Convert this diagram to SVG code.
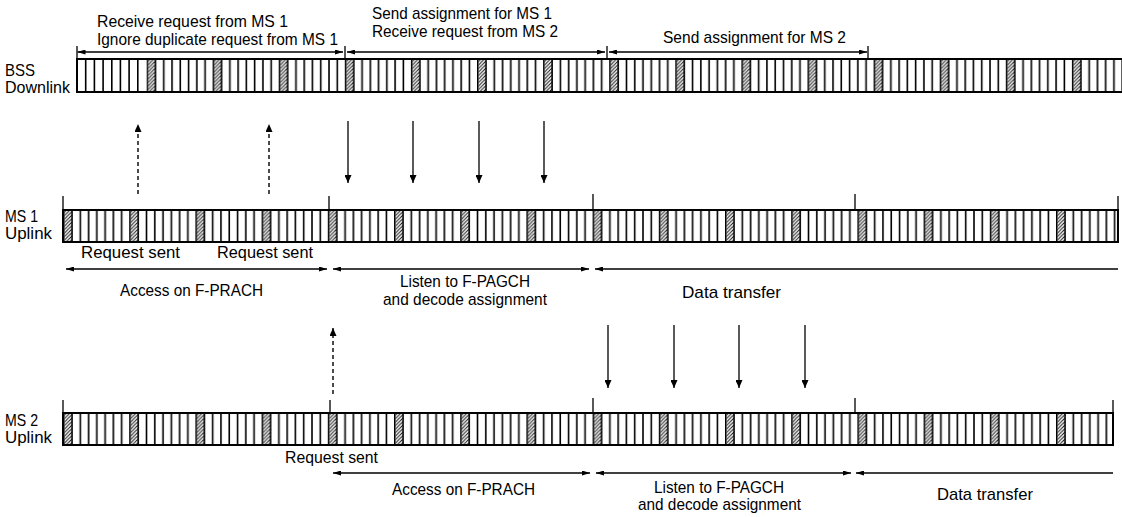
<svg xmlns="http://www.w3.org/2000/svg" width="1122" height="517" viewBox="0 0 1122 517">
<style>
.t{font-family:"Liberation Sans",Arial,sans-serif;font-size:17px;fill:#000}
.ln{stroke:#000;stroke-width:1.3;fill:none}
.dash{stroke:#000;stroke-width:1.4;fill:none;stroke-dasharray:4 3}
.tick{stroke:#000;stroke-width:1.3}
.border{fill:none;stroke:#000;stroke-width:2}
.div{stroke:#000;stroke-width:1.6}
</style>
<defs>
<pattern id="hatch" patternUnits="userSpaceOnUse" width="3.5" height="3.5">
<path d="M-1,1L1,-1M0,3.5L3.5,0M2.5,4.5L4.5,2.5" stroke="#000" stroke-width="0.9"/>
</pattern>
<pattern id="patBSS" patternUnits="userSpaceOnUse" x="146.5" y="0" width="66.1" height="600">
<rect x="0" y="0" width="66.1" height="600" fill="#fff"/>
<rect x="1.5" y="0" width="7.5" height="600" fill="url(#hatch)"/>
<path class="div" d="M0.75,0V600M9.01,0V600M17.28,0V600M25.54,0V600M33.8,0V600M42.06,0V600M50.33,0V600M58.59,0V600"/>
</pattern>
<pattern id="patMS" patternUnits="userSpaceOnUse" x="63" y="0" width="66.2" height="600">
<rect x="0" y="0" width="66.2" height="600" fill="#fff"/>
<rect x="1.5" y="0" width="7.5" height="600" fill="url(#hatch)"/>
<path class="div" d="M0.75,0V600M9.03,0V600M17.3,0V600M25.58,0V600M33.85,0V600M42.13,0V600M50.4,0V600M58.68,0V600"/>
</pattern>
<marker id="ah" viewBox="0 0 8 5" refX="8" refY="2.5" markerWidth="8" markerHeight="5" markerUnits="userSpaceOnUse" orient="auto-start-reverse">
<path d="M0,0L8,2.5L0,5z" fill="#000"/>
</marker>
<marker id="av" viewBox="0 0 8 7" refX="8" refY="3.5" markerWidth="8" markerHeight="7" markerUnits="userSpaceOnUse" orient="auto">
<path d="M0,0L8,3.5L0,7z" fill="#000"/>
</marker>
</defs>
<rect width="1122" height="517" fill="#fff"/>

<g id="bss-downlink">
<text class="t" x="5" y="76" textLength="30" lengthAdjust="spacingAndGlyphs">BSS</text>
<text class="t" x="5" y="93" textLength="65" lengthAdjust="spacingAndGlyphs">Downlink</text>
<rect x="77" y="59" width="1050" height="33" fill="url(#patBSS)"/>
<rect x="77" y="59" width="69.4" height="33" fill="#fff"/>
<path class="div" d="M85.7,59V92M94.4,59V92M103.1,59V92M111.8,59V92M120.4,59V92M129.1,59V92M137.8,59V92"/>
<rect class="border" x="77" y="59" width="1050" height="33"/>
<path class="tick" d="M77,46V59M345,46V59M607,46V59M868,46V59"/>
</g>

<g id="ms1-uplink">
<text class="t" x="5" y="222" textLength="33" lengthAdjust="spacingAndGlyphs">MS 1</text>
<text class="t" x="5" y="239" textLength="47" lengthAdjust="spacingAndGlyphs">Uplink</text>
<rect x="63" y="210" width="1055" height="32" fill="url(#patMS)"/>
<rect class="border" x="63" y="210" width="1055" height="32"/>
<path class="tick" d="M63,196V210M329,196V210M593,194V210M855,194V210M1118,196V210"/>
</g>

<g id="ms2-uplink">
<text class="t" x="5" y="426" textLength="33" lengthAdjust="spacingAndGlyphs">MS 2</text>
<text class="t" x="5" y="443" textLength="47" lengthAdjust="spacingAndGlyphs">Uplink</text>
<rect x="63" y="413" width="1050" height="32" fill="url(#patMS)"/>
<rect class="border" x="63" y="413" width="1050" height="32"/>
<path class="tick" d="M63,400V413M330,400V413M593,398V413M855,398V413M1113,400V413"/>
</g>

<g id="bss-labels">
<text class="t" x="97" y="27" textLength="191" lengthAdjust="spacingAndGlyphs">Receive request from MS 1</text>
<text class="t" x="97" y="45" textLength="241" lengthAdjust="spacingAndGlyphs">Ignore duplicate request from MS 1</text>
<text class="t" x="372" y="19" textLength="180" lengthAdjust="spacingAndGlyphs">Send assignment for MS 1</text>
<text class="t" x="372" y="37" textLength="186" lengthAdjust="spacingAndGlyphs">Receive request from MS 2</text>
<text class="t" x="663" y="43" textLength="183" lengthAdjust="spacingAndGlyphs">Send assignment for MS 2</text>
</g>

<g id="ms1-labels">
<text class="t" x="81" y="258" textLength="99" lengthAdjust="spacingAndGlyphs">Request sent</text>
<text class="t" x="217" y="258" textLength="96" lengthAdjust="spacingAndGlyphs">Request sent</text>
<text class="t" x="120" y="296" textLength="143" lengthAdjust="spacingAndGlyphs">Access on F-PRACH</text>
<text class="t" x="400" y="287" textLength="130" lengthAdjust="spacingAndGlyphs">Listen to F-PAGCH</text>
<text class="t" x="383" y="305" textLength="164" lengthAdjust="spacingAndGlyphs">and decode assignment</text>
<text class="t" x="682" y="298" textLength="99" lengthAdjust="spacingAndGlyphs">Data transfer</text>
</g>

<g id="ms2-labels">
<text class="t" x="285" y="463" textLength="93" lengthAdjust="spacingAndGlyphs">Request sent</text>
<text class="t" x="392" y="495" textLength="143" lengthAdjust="spacingAndGlyphs">Access on F-PRACH</text>
<text class="t" x="654" y="493" textLength="130" lengthAdjust="spacingAndGlyphs">Listen to F-PAGCH</text>
<text class="t" x="638" y="510" textLength="163" lengthAdjust="spacingAndGlyphs">and decode assignment</text>
<text class="t" x="937" y="500" textLength="96" lengthAdjust="spacingAndGlyphs">Data transfer</text>
</g>

<g id="connectors">
<line class="ln" x1="77.5" y1="52" x2="343" y2="52" marker-start="url(#ah)" marker-end="url(#ah)"/>
<line class="ln" x1="347" y1="52" x2="605" y2="52" marker-start="url(#ah)" marker-end="url(#ah)"/>
<line class="ln" x1="609" y1="52" x2="867" y2="52" marker-start="url(#ah)" marker-end="url(#ah)"/>

<line class="ln" x1="66" y1="269" x2="327" y2="269" marker-start="url(#ah)" marker-end="url(#ah)"/>
<line class="ln" x1="333" y1="269" x2="589" y2="269" marker-start="url(#ah)" marker-end="url(#ah)"/>
<line class="ln" x1="595" y1="269" x2="1118" y2="269" marker-start="url(#ah)"/>

<line class="ln" x1="333" y1="473" x2="590" y2="473" marker-start="url(#ah)" marker-end="url(#ah)"/>
<line class="ln" x1="596" y1="473" x2="851" y2="473" marker-start="url(#ah)" marker-end="url(#ah)"/>
<line class="ln" x1="856" y1="473" x2="1113" y2="473" marker-start="url(#ah)"/>

<line class="dash" x1="138" y1="194" x2="138" y2="124" marker-end="url(#av)"/>
<line class="dash" x1="269" y1="194" x2="269" y2="124" marker-end="url(#av)"/>
<line class="ln" x1="348" y1="121" x2="348" y2="183" marker-end="url(#av)"/>
<line class="ln" x1="413" y1="121" x2="413" y2="183" marker-end="url(#av)"/>
<line class="ln" x1="479" y1="121" x2="479" y2="183" marker-end="url(#av)"/>
<line class="ln" x1="544" y1="121" x2="544" y2="183" marker-end="url(#av)"/>

<line class="dash" x1="333" y1="394" x2="333" y2="328" marker-end="url(#av)"/>
<line class="ln" x1="608" y1="325" x2="608" y2="388" marker-end="url(#av)"/>
<line class="ln" x1="674" y1="325" x2="674" y2="388" marker-end="url(#av)"/>
<line class="ln" x1="739" y1="325" x2="739" y2="388" marker-end="url(#av)"/>
<line class="ln" x1="805" y1="325" x2="805" y2="388" marker-end="url(#av)"/>
</g>
</svg>
